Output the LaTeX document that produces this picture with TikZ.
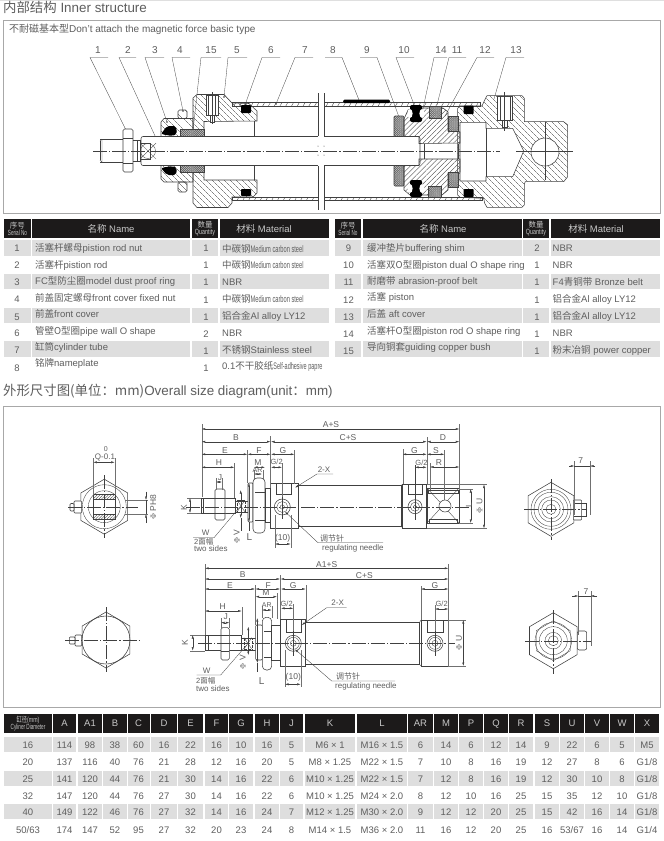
\documentclass[tikz,border=0pt]{standalone}
\usepackage{fontspec}
\setmainfont{Liberation Sans}
\newfontfamily\cjk{Noto Sans CJK SC}
\usetikzlibrary{arrows.meta,patterns.meta}
\definecolor{ln}{HTML}{404040}
\definecolor{tx}{HTML}{5E5E5E}
\definecolor{hdr}{HTML}{1C1A1A}
\definecolor{stripe}{HTML}{DEDEDE}
\definecolor{frm}{HTML}{A8A8A8}
\newcommand\zh[1]{{\cjk #1}}
\newcommand\fs[1]{\fontsize{#1}{#1}\selectfont}
\newcommand\nar[2]{\scalebox{#1}[1]{#2}}
\tikzset{
 txt/.style={inner sep=0pt,text=tx,font=\fs{9.5}},
 ltxt/.style={txt,anchor=west},
 htxt/.style={inner sep=0pt,text=white!78!black,font=\fs{9.5}},
 dtxt/.style={inner sep=0pt,text=tx,font=\fs{8.5}},
 ntxt/.style={inner sep=0pt,text=tx,font=\fs{10}},
 ttl/.style={inner sep=0pt,anchor=west,text=tx,font=\fs{13.4}},
 hcell/.style={fill=hdr},
 rowbar/.style={fill=stripe},
 part/.style={draw=ln,line width=.55pt},
 thin/.style={draw=ln,line width=.35pt},
 leader/.style={draw=ln,line width=.3pt},
 dimn/.style={draw=ln,line width=.35pt,{Latex[length=3.5pt,width=2pt]}-{Latex[length=3.5pt,width=2pt]}},
 ptr/.style={draw=ln,line width=.35pt,-{Latex[length=3.5pt,width=2pt]}},
 ext/.style={draw=ln!75,line width=.3pt},
 cline/.style={draw=ln,line width=.3pt,dash pattern=on 14pt off 2pt on 1.2pt off 2pt},
 hatchA/.style={part,pattern={Lines[angle=-45,distance=4pt,line width=.35pt]},pattern color=ln},
 hatchB/.style={part,pattern={Lines[angle=45,distance=3.6pt,line width=.35pt]},pattern color=ln},
 hatchT/.style={part,pattern={Lines[angle=60,distance=5pt,line width=.35pt]},pattern color=ln},
 dense/.style={part,preaction={fill=gray!45},pattern={Hatch[angle=45,distance=1.5pt,line width=.35pt]},pattern color=ln!80},
 seal/.style={fill=black,rounded corners=.8pt},
 wfill/.style={part,fill=white},
}
\newcommand\dogbone[2]{%
 \fill[black,rounded corners=2pt] (#1-6,#2-8.5) rectangle (#1+6,#2+8.5);
 \fill[white] (#1-6,#2) ellipse (2.6 and 4.5);
 \fill[white] (#1+6,#2) ellipse (2.6 and 4.5);}
\newcommand\hexa[3]{% cx cy R (pointy top, half width .85R)
 (#1,#2-#3) -- (#1+.85*#3,#2-.5*#3) -- (#1+.85*#3,#2+.5*#3) -- (#1,#2+#3) -- (#1-.85*#3,#2+.5*#3) -- (#1-.85*#3,#2-.5*#3) -- cycle}
\newcommand\prow[8]{%
 \node[txt] (s#1) at (\xS,#2) {#1};
 \node[ltxt] (n#1) at (\xN,#3) {#6};
 \node[txt] (q#1) at (\xQ,#4) {#7};
 \node[ltxt] (m#1) at (\xM,#5) {#8};}
\begin{document}
\begin{tikzpicture}[x=1pt,y=-1pt]
\useasboundingbox (0,0) rectangle (664,841);
\fill[white] (0,0) rectangle (664,841);
\fill[gray!25] (0,0) rectangle (664,1);
% ---------- titles and frames
\node[ttl] (title1) at (3,7.5) {\zh{内部结构} Inner structure};
\draw[frm,line width=.7pt] (3.5,20) rectangle (660,213);
\node[inner sep=0pt,anchor=west,text=tx,font=\fs{10}] (sub1) at (9,29) {\zh{不耐磁基本型}Don't attach the magnetic force basic type};
\node[ttl] (title2) at (3,391.5) {\zh{外形尺寸图(单位：mm)}Overall size diagram(unit\zh{：}mm)};
\draw[frm,line width=.7pt] (3.5,406) rectangle (660,707.5);
% ---------- call-outs
\foreach \t/\x/\a/\b/\px/\py in {1/98/90/108/127/132,2/128/119/136/156/138,3/155/145/164/167/122,4/180/172/190/183/111,15/211/201/221/193/131,5/237/228/247/224/97,6/271/262/280/245/105,7/305/295/313/276/104}{
 \node[ntxt] (c\t) at (\x,50) {\t};
 \draw[leader] (\b,57.5) -- (\a,57.5) -- (\px,\py);
 \fill[ln] (\px,\py) circle (.8);
}
\foreach \t/\x in {8/333,9/367,12/485}{
 \node[ntxt] (c\t) at (\x,50) {\t};
}
\draw[leader] (325,57.5) -- (342,57.5) -- (359,100);
\draw[leader] (360,57.5) -- (377,57.5) -- (399,117);
\node[ntxt] (c10) at (404,50) {10};
\draw[leader] (414,57.5) -- (396,57.5) -- (415,107);
\node[ntxt] (c14) at (441,50) {14};
\draw[leader] (447,57.5) -- (434,57.5) -- (421,118);
\node[ntxt] (c11) at (457,50) {11};
\draw[leader] (466,57.5) -- (449,57.5) -- (437,105);
\draw[leader] (494,57.5) -- (477,57.5) -- (445,116);
\node[ntxt] (c13) at (516,50) {13};
\draw[leader] (524,57.5) -- (506,57.5) -- (494,99);
% ---------- section drawing
% tube
\draw[hatchT] (232,102.5) rectangle (480,106);
\draw[hatchT] (232,197) rectangle (482,200.5);
% rear cover
\draw[hatchA] (457.7,108.3) -- (460,106) -- (482,106) -- (484.7,100) -- (487,95.7) -- (522,95.7) -- (524.3,98.3) -- (524.3,121.7) -- (563.7,121.7) -- (567.7,125) -- (567.7,176.7) -- (563.7,181.7) -- (525.3,181.7) -- (524.3,184) -- (524.3,205) -- (522,207.3) -- (487,207.3) -- (484.7,203.3) -- (483.7,198.3) -- (460,197.3) -- (457.7,195) -- cycle;
\draw[wfill] (460,122.3) -- (486,122.3) -- (486,128.3) -- (512.7,128.3) -- (523.7,151) -- (512.7,176.7) -- (486,176.7) -- (486,181) -- (460,181) -- cycle;
\draw[thin] (486,128.3) -- (486,176.7);
\draw[wfill] (545,152) circle (14);
\draw[thin] (545,122) -- (545,180);
\draw[thin] (516,151) -- (573,151);
\fill[seal] (463.7,105.7) rectangle (473.7,114);
\fill[seal] (463.7,189) rectangle (473.7,197);
\draw[wfill] (497.7,96) rectangle (512,120);
\draw[thin] (500,96) -- (500,120) (510,96) -- (510,120);
\draw[thin,fill=white] (502,120) rectangle (507,127);
\draw[thin] (504.5,92) -- (504.5,131);
% wiper gland
\draw[hatchA] (161,122) -- (164,118.5) -- (193,118.5) -- (193,136.5) -- (161,136.5) -- cycle;
\draw[hatchA] (161,165.5) -- (161,179) -- (164,182) -- (193,182) -- (193,165.5) -- cycle;
% front cover
\draw[hatchA] (193,98) -- (197,94.5) -- (224,94.5) -- (232,103) -- (249,103.5) -- (257,111) -- (257,121) -- (204,121.5) -- (204,136.5) -- (193,136.5) -- cycle;
\draw[hatchA] (193,165.5) -- (204,165.5) -- (204,180) -- (257,180) -- (257,193) -- (253,197) -- (232,197) -- (232,203) -- (228,207.5) -- (197,207.5) -- (193,203) -- cycle;
\draw[thin] (254,121) -- (254,136.5) (254,165.5) -- (254,180);
\fill[seal] (241,105) rectangle (251,113);
\fill[seal] (241,189) rectangle (251,196);
\draw[wfill] (206,95) rectangle (218,115);
\draw[thin] (208.5,95) -- (208.5,115) (215.5,95) -- (215.5,115);
\draw[thin,fill=white] (210,115) rectangle (214,122);
\draw[thin] (212,92) -- (212,124);
% nuts 4
\draw[hatchA,rounded corners=1.5pt] (178,110) rectangle (187,118.5);
\draw[hatchA,rounded corners=1.5pt] (178,182) rectangle (187,192);
% wiper ring and bush 15
\fill[black,rounded corners=2pt] (161,134) -- (167,126) -- (176,126) -- (177,134) -- (172,136) -- cycle;
\fill[black,rounded corners=2pt] (161,168) -- (167,175) -- (176,175) -- (177,168) -- (172,166) -- cycle;
\draw[dense] (180,129.5) rectangle (204,136.5);
\draw[dense] (180,165.5) rectangle (204,172.5);
% rod and end
\draw[part] (100,139) -- (123,139) (100,162) -- (123,162) (100,141) -- (100,160);
\draw[thin] (100,141) -- (102,139) (100,160) -- (102,162) (102,139) -- (102,162);
\draw[wfill,rounded corners=1.5pt] (123,129) rectangle (133,172);
\draw[thin] (123,138) -- (133,138) (123,163) -- (133,163);
\draw[part] (133,140) -- (140,140) -- (140,161) -- (133,161);
\draw[thin] (137,140) -- (137,161);
\draw[wfill,rounded corners=2pt] (141,136.5) rectangle (420,165.5);
\draw[thin] (140,143) rectangle (150,159);
\draw[thin] (148,151) circle (7.5);
\draw[thin] (140,143) -- (156,159) (140,159) -- (156,143);
% shim 9
\draw[dense,rounded corners=1pt] (394,116) rectangle (404,136.5);
\draw[dense,rounded corners=1pt] (394,165.5) rectangle (404,186);
% piston
\draw[hatchB] (404,136.5) -- (404,119) -- (408,110) -- (413,108) -- (443,108) -- (448,112) -- (448,131) -- (460,132) -- (460,143) -- (419,143.5) -- (419,136.5) -- cycle;
\draw[hatchB] (404,165.5) -- (419,165.5) -- (419,159) -- (460,159) -- (460,172) -- (448,173) -- (448,190) -- (442,195) -- (410,195) -- (404,190) -- cycle;
\draw[thin] (424,144) -- (424,159) (458,144) -- (458,159);
\dogbone{416}{113.5}
\dogbone{416}{188.5}
\draw[dense] (429,106) rectangle (441,118);
\draw[dense] (428,186) rectangle (441,197);
\draw[dense] (448,116) rectangle (458,131);
\draw[dense] (448,172) rectangle (458,187);
% nameplate
\fill[black,rounded corners=1.5pt] (343,99.5) rectangle (390,103);
% break
\fill[white] (318,93) rectangle (324,210);
\draw[thin] (318,93) -- (318,136) (324,93) -- (324,136) (318,166) -- (318,210) (324,166) -- (324,210);
\draw[thin] (318,102.5) -- (318,106);
\fill[ln] (318,146) circle (.5) (324,146) circle (.5) (318,155) circle (.5) (324,155) circle (.5);
% centre line
\draw[cline] (93,151) -- (500,151);
% ---------- tables 1 and 2
\foreach \a/\b in {4/31,32/190,192/218,220/329,335/361,363/522,523/549,551/660}{
 \fill[hcell] (\a,219) rectangle (\b,238);
 \foreach \p/\q in {240/256,274/289,308/323,341/357}{\fill[rowbar] (\a,\p) rectangle (\b,\q);}
}
\node[htxt,align=center,font=\fs{7.5}] (h1a) at (17.5,228.5) {\zh{序号}\\[-.5pt]\nar{.62}{Serial No}};
\node[htxt] (h1b) at (111,228.5) {\zh{名称} Name};
\node[htxt,align=center,font=\fs{7.5}] (h1c) at (205,228.5) {\zh{数量}\\[-.5pt]\nar{.72}{Quantity}};
\node[htxt] (h1d) at (264,228.5) {\zh{材料} Material};
\node[htxt,align=center,font=\fs{7.5}] (h2a) at (348,228.5) {\zh{序号}\\[-.5pt]\nar{.62}{Serial No}};
\node[htxt] (h2b) at (443,228.5) {\zh{名称} Name};
\node[htxt,align=center,font=\fs{7.5}] (h2c) at (536,228.5) {\zh{数量}\\[-.5pt]\nar{.72}{Quantity}};
\node[htxt] (h2d) at (596,228.5) {\zh{材料} Material};
\def\xS{17}\def\xN{35}\def\xQ{206}\def\xM{222}
\prow{1}{248}{248}{248}{248.5}{\zh{活塞杆螺母}pistion rod nut}{1}{\zh{中碳钢}\nar{.6}{Medium carbon steel}}
\prow{2}{265}{265}{265.5}{265}{\zh{活塞杆}pistion rod}{1}{\zh{中碳钢}\nar{.6}{Medium carbon steel}}
\prow{3}{282}{281.5}{282.5}{282}{FC\zh{型防尘圈}model dust proof ring}{1}{NBR}
\prow{4}{299.5}{297.5}{300}{299}{\zh{前盖固定螺母}front cover fixed nut}{1}{\zh{中碳钢}\nar{.6}{Medium carbon steel}}
\prow{5}{317}{314}{317}{316}{\zh{前盖}front cover}{1}{\zh{铝合金}Al alloy LY12}
\prow{6}{333}{331}{334}{333}{\zh{管壁O型圈}pipe wall O shape}{2}{NBR}
\prow{7}{350}{347}{351}{350}{\zh{缸筒}cylinder tube}{1}{\zh{不锈钢}Stainless steel}
\prow{8}{368}{363.5}{368}{366.5}{\zh{铭牌}nameplate}{1}{0.1\zh{不干胶纸}\nar{.58}{Self-adhesive papre}}
\def\xS{348.5}\def\xN{367}\def\xQ{537}\def\xM{552.5}
\prow{9}{248}{248}{248}{248.5}{\zh{缓冲垫片}buffering shim}{2}{NBR}
\prow{10}{265}{265}{265.5}{265.5}{\zh{活塞双O型圈}piston dual O shape ring}{1}{NBR}
\prow{11}{282}{281.5}{282.5}{282}{\zh{耐磨带} abrasion-proof belt}{1}{F4\zh{青铜带} Bronze belt}
\prow{12}{300}{297.5}{300}{299.5}{\zh{活塞} piston}{1}{\zh{铝合金}Al alloy LY12}
\prow{13}{317}{314}{317}{316}{\zh{后盖} aft cover}{1}{\zh{铝合金}Al alloy LY12}
\prow{14}{334}{331}{334}{333}{\zh{活塞杆O型圈}piston rod O shape ring}{1}{NBR}
\prow{15}{351}{347}{351}{350}{\zh{导向铜套}guiding copper bush}{1}{\zh{粉末冶铜} power copper}
% ---------- upper outline view: left end
\draw[part] \hexa{104.3}{506.7}{27.5};
\draw[thin] (104.3,506.7) circle (22);
\draw[thin] (104.3,506.7) circle (16);
\draw[part] (93,494) rectangle (115.7,519);
\draw[part,pattern={Lines[angle=45,distance=2pt,line width=.35pt]},pattern color=ln] (93,494) rectangle (115.7,499);
\draw[part,pattern={Lines[angle=45,distance=2pt,line width=.35pt]},pattern color=ln] (93,514) rectangle (115.7,519);
\draw[part,fill=white,rounded corners=1pt] (74,501) rectangle (81.7,513);
\draw[part,fill=white,rounded corners=1pt] (70,503.5) rectangle (74,511);
\draw[cline] (68,506.7) -- (138,506.7) (104.3,475) -- (104.3,538);
\draw[ext] (93.3,458) -- (93.3,495) (114.7,458) -- (114.7,495);
\draw[dimn] (93.3,462.3) -- (114.7,462.3);
\node[dtxt,font=\fs{7}] (q0) at (105.7,449) {0};
\node[dtxt,font=\fs{8}] (q01) at (105,457) {Q-0.1};
\draw[ext] (125,500) -- (148,500) (125,514) -- (148,514);
\draw[ptr] (146,491.5) -- (146,500);
\draw[ptr] (146,523) -- (146,514);
\draw[thin] (146,500) -- (146,514);
\node[dtxt,rotate=90] (phip) at (153.3,507) {$\Phi$ PH8};
% ---------- upper outline view: side
\draw[part] (201,498) rectangle (215,513);
\draw[thin] (203.5,498) -- (203.5,513);
\draw[part] (225,498) -- (235,498) -- (235,513) -- (225,513);
\draw[wfill,rounded corners=1.5pt] (215,489) rectangle (225,520);
\draw[thin] (215,498) -- (225,498) (215,513) -- (225,513);
\draw[thin] (235,501) -- (248,501) (235,512) -- (248,512);
\draw[thin,densely dotted] (237,500) rectangle (245,512);
\draw[thin] (237,500) -- (245,512) (237,512) -- (245,500);
\draw[wfill,rounded corners=1pt] (248,483) rectangle (253,522);
\draw[wfill,rounded corners=4pt] (253,478) -- (265,478) -- (265,533) -- (253,533) -- cycle;
\draw[thin] (255,492) -- (265,492) (255,520) -- (265,520);
\draw[wfill] (265,488) rectangle (271,522);
\draw[wfill] (270.7,483) rectangle (298.3,528);
\draw[thin] (275.7,483) rectangle (290.7,494);
\draw[wfill] (298.3,485) rectangle (401.7,526.7);
\draw[wfill] (402.7,484) rectangle (426.7,528.3);
\draw[thin] (408.3,484) rectangle (422.3,493.7);
\draw[thin] (401.7,485) -- (402.7,484) (401.7,526.7) -- (402.7,528.3);
\draw[part] (282.3,507) circle (8);
\draw[thin] (282.3,507) circle (5.5) (282.3,507) circle (2.2);
\draw[part] (415,506.7) circle (7);
\draw[thin] (415,506.7) circle (4.5) (415,506.7) circle (1.8);
\draw[wfill] (427,488) rectangle (459,523);
\draw[thin] (428,490) rectangle (458,493.5) (429,519.5) rectangle (457,523);
\draw[thin] (427,488) -- (459,523) (427,523) -- (459,488);
\draw[wfill] (445,506) circle (6);
\draw[cline] (186,506.7) -- (473,506.7);
\draw[thin] (282.3,495) -- (282.3,519) (415,465) -- (415,520);
% extension lines
\draw[ext] (201.7,424) -- (201.7,497) (270.5,436) -- (270.5,488) (247.5,450) -- (247.5,483) (234.3,463) -- (234.3,498) (294.3,450) -- (294.3,484);
\draw[ext] (254,470) -- (254,480) (263,470) -- (263,480) (216,478) -- (216,490) (222,478) -- (222,490) (282,463) -- (282,497);
\draw[ext] (402.7,449) -- (402.7,484) (426.7,437) -- (426.7,484) (459.3,424) -- (459.3,490) (444.3,450) -- (444.3,500) (430,463) -- (430,490);
\draw[ext] (427,484.5) -- (487,484.5) (427,528.3) -- (487,528.3) (459,489) -- (473,489) (459,523) -- (473,523);
\draw[ext] (187,498) -- (201,498) (187,513) -- (201,513);
\draw[ext] (275,515) -- (275,548) (290.7,515) -- (290.7,548);
% dimensions
\draw[dimn] (201.7,429) -- (459.3,429);
\draw[dimn] (201.7,441.7) -- (270.5,441.7);
\draw[dimn] (271,441.7) -- (426.7,441.7);
\draw[dimn] (427,441.7) -- (459.3,441.7);
\draw[dimn] (201.7,454.3) -- (247.3,454.3);
\draw[dimn] (247.7,454.3) -- (270.5,454.3);
\draw[dimn] (271,454.3) -- (294.3,454.3);
\draw[dimn] (402.7,454.3) -- (426.7,454.3);
\draw[dimn] (427,454.3) -- (444.3,454.3);
\draw[dimn] (201.7,467.3) -- (234.3,467.3);
\draw[dimn] (254,467.3) -- (265,467.3);
\draw[dimn] (254,474) -- (262,474);
\draw[dimn] (271,467.3) -- (282,467.3);
\draw[dimn] (415,467.3) -- (426.7,467.3);
\draw[dimn] (430,467) -- (459.3,467);
\draw[dimn] (216,482) -- (222,482);
\draw[dimn] (275,544) -- (290.7,544);
\draw[dimn] (190,498) -- (190,513);
\draw[dimn] (240.7,490) -- (240.7,518);
\draw[thin] (240.7,518) -- (240.7,531);
\draw[dimn] (470.7,489) -- (470.7,523);
\draw[dimn] (484,484.5) -- (484,528.3);
\draw[dimn] (249,483) -- (249,522);
\draw[thin] (249,522) -- (249,531);
\node[dtxt,font=\fs{10}] (dll) at (249.5,537) {L};
\node[dtxt] (ds) at (331,425) {A+S};
\node[dtxt] (db) at (236,438) {B};
\node[dtxt] (dc) at (348,438) {C+S};
\node[dtxt] (dd) at (443,438) {D};
\node[dtxt] (de) at (225,450.5) {E};
\node[dtxt] (df) at (259,450.5) {F};
\node[dtxt] (dg) at (283,450.5) {G};
\node[dtxt] (dg2) at (414.5,450.5) {G};
\node[dtxt] (dss) at (436,450.5) {S};
\node[dtxt] (dh) at (219,463) {H};
\node[dtxt] (dm) at (258,463) {M};
\node[dtxt,font=\fs{7}] (dar) at (257.5,470) {AR};
\node[dtxt,font=\fs{7.5}] (dgh) at (276.7,462) {G/2};
\node[dtxt,font=\fs{7.5}] (dgh2) at (421.5,462.5) {G/2};
\node[dtxt] (dr) at (439,462.5) {R};
\node[dtxt] (dj) at (220,478) {J};
\node[dtxt,rotate=90] (dk) at (184,507.7) {K};
\node[dtxt,rotate=90] (dv) at (236.7,536.7) {$\Phi$ V};
\node[dtxt,rotate=90] (dl) at (469,505) {L};
\node[dtxt,rotate=90] (du) at (479.5,506) {$\Phi$ U};
\node[dtxt] (d10) at (282.7,538) {(10)};
\node[dtxt,font=\fs{8}] (x2) at (324,470) {2-X};
\draw[ptr] (333,474) -- (317,474) -- (295,487.7);
\node[dtxt,font=\fs{8}] (w1) at (205.7,533) {W};
\draw[leader] (193,537.7) -- (214,537.7) -- (240,506.7);
\node[dtxt,font=\fs{7.5},anchor=west] (w2) at (194,541.7) {2\zh{面幅}};
\node[dtxt,font=\fs{8},anchor=west] (w3) at (194,549) {two sides};
\node[dtxt,font=\fs{8},anchor=west] (r1) at (320,538) {\zh{调节针}};
\draw[ptr] (383,542.7) -- (318,542.7) -- (285,511.7);
\node[dtxt,font=\fs{8},anchor=west] (r2) at (322,548) {regulating needle};
% ---------- upper right end view
\draw[part] \hexa{551}{509.3}{27};
\foreach \r in {20,17,12.7,9.3,5}{\draw[thin] (551,509.3) circle (\r);}
\draw[part,fill=white,rounded corners=1pt] (573.3,500) rectangle (581.7,520);
\draw[thin] (574,503) -- (586,503) -- (586,516) -- (574,516);
\draw[cline] (524,509.3) -- (586,509.3) (551,479) -- (551,540);
\draw[ext] (574.3,461) -- (574.3,515) (590,461) -- (590,515);
\draw[ptr] (569,466) -- (574.3,466);
\draw[ptr] (595,466) -- (590,466);
\draw[thin] (574.3,466) -- (590,466);
\node[dtxt] (d7) at (580.7,461) {7};
% ---------- lower outline view: left end
\draw[part] \hexa{106}{640}{28};
\draw[part] (106,640) circle (24);
\draw[part,fill=white,rounded corners=1pt] (75,635) rectangle (81.7,646);
\draw[part,fill=white,rounded corners=1pt] (69.3,637) rectangle (75,644);
\draw[cline] (65,640) -- (141,640) (106,607) -- (106,672);
% ---------- lower outline view: side
\draw[part] (205,635) rectangle (221,650.7);
\draw[thin] (208,635) -- (208,650.7);
\draw[part] (229.3,635) -- (241.7,635) -- (241.7,650.7) -- (229.3,650.7);
\draw[wfill,rounded corners=1.5pt] (221,627.7) rectangle (229.3,660);
\draw[thin] (221,635) -- (229.3,635) (221,650.7) -- (229.3,650.7);
\draw[thin] (241.7,638) -- (255.7,638) (241.7,650) -- (255.7,650);
\draw[thin,densely dotted] (244,637.7) rectangle (251.7,649);
\draw[thin] (244,637.7) -- (251.7,649) (244,649) -- (251.7,637.7);
\draw[wfill,rounded corners=1pt] (255.7,625) rectangle (262.3,660);
\draw[wfill,rounded corners=4pt] (262.3,617.3) -- (271.7,617.3) -- (271.7,670) -- (262.3,670) -- cycle;
\draw[thin] (264,631) -- (271.7,631) (264,657) -- (271.7,657);
\draw[wfill] (271.7,625.7) rectangle (280.7,660.7);
\draw[wfill] (280.7,619.3) rectangle (305.7,666);
\draw[thin] (286,619.3) rectangle (300.7,631.7);
\draw[wfill] (305.7,622.7) rectangle (419.3,664);
\draw[wfill] (421,620) rectangle (448.3,666);
\draw[thin] (427.3,620) rectangle (443.3,631.7);
\draw[thin] (419.3,622.7) -- (421,620) (419.3,664) -- (421,666);
\draw[part] (293.3,643.3) circle (8);
\draw[thin] (293.3,643.3) circle (6) (293.3,643.3) circle (3);
\draw[part] (435,643.3) circle (8);
\draw[thin] (435,643.3) circle (6) (435,643.3) circle (3);
\draw[cline] (198,643.3) -- (455,643.3);
\draw[thin] (293.3,631) -- (293.3,656) (435,631) -- (435,656);
% extension lines
\draw[ext] (205,564) -- (205,635) (280.3,575) -- (280.3,619) (255.5,585) -- (255.5,625) (305.7,585) -- (305.7,622) (241.7,607) -- (241.7,635) (277,593) -- (277,619);
\draw[ext] (221,618) -- (221,628) (229.3,618) -- (229.3,628) (262,606) -- (262,618) (271.7,606) -- (271.7,618) (293.3,604) -- (293.3,631);
\draw[ext] (421,586) -- (421,620) (448.3,564) -- (448.3,666) (435,605) -- (435,631);
\draw[ext] (448,620) -- (466,620) (448,666) -- (466,666);
\draw[ext] (190,635) -- (205,635) (190,650.7) -- (205,650.7);
\draw[ext] (285,650) -- (285,687) (300.7,650) -- (300.7,687);
\draw[dimn] (205,568.3) -- (448.3,568.3);
\draw[dimn] (205,579) -- (280,579);
\draw[dimn] (280.6,579) -- (448.3,579);
\draw[dimn] (205,589) -- (255,589);
\draw[dimn] (255.5,589) -- (280,589);
\draw[dimn] (281,589) -- (305.7,589);
\draw[dimn] (421,589) -- (448.3,589);
\draw[dimn] (255.5,596.7) -- (277,596.7);
\draw[dimn] (205,611) -- (241.7,611);
\draw[dimn] (262,610) -- (271.7,610);
\draw[dimn] (281,608.3) -- (293.3,608.3);
\draw[dimn] (435,609) -- (448.3,609);
\draw[dimn] (221,622.7) -- (229.3,622.7);
\draw[dimn] (192.7,635) -- (192.7,650.7);
\draw[dimn] (248.3,626.7) -- (248.3,655);
\draw[dimn] (463.3,620) -- (463.3,666);
\draw[dimn] (285,684.3) -- (300.7,684.3);
\draw[dimn] (257.3,618) -- (257.3,663);
\draw[thin] (257.3,663) -- (257.3,672);
\node[dtxt] (la) at (326.7,564.3) {A1+S};
\node[dtxt] (lb) at (242.7,575) {B};
\node[dtxt] (lc) at (364.3,575.5) {C+S};
\node[dtxt] (le) at (230,585.5) {E};
\node[dtxt] (lf) at (268.3,585.5) {F};
\node[dtxt] (lg) at (293.3,585.5) {G};
\node[dtxt] (lg2) at (435,585.5) {G};
\node[dtxt] (lm) at (266,593) {M};
\node[dtxt] (lh) at (222.7,607) {H};
\node[dtxt,font=\fs{7}] (lar) at (266.7,605) {AR};
\node[dtxt,font=\fs{7.5}] (lgh) at (286.7,604) {G/2};
\node[dtxt,font=\fs{7.5}] (lgh2) at (441.7,604) {G/2};
\node[dtxt] (lj) at (225.7,617) {J};
\node[dtxt,rotate=90] (lk) at (185,642.3) {K};
\node[dtxt,rotate=90] (lv) at (242.7,662.3) {$\Phi$ V};
\node[dtxt,font=\fs{10}] (ll) at (261.7,681) {L};
\node[dtxt,rotate=90] (lu) at (459,643) {$\Phi$ U};
\node[dtxt] (l10) at (293.3,677.3) {(10)};
\node[dtxt,font=\fs{8}] (lx) at (337.7,603) {2-X};
\draw[ptr] (346.7,607.7) -- (326.7,607.7) -- (301.7,625);
\node[dtxt,font=\fs{8}] (lw) at (206.7,670.7) {W};
\draw[leader] (196.7,675) -- (220.7,675) -- (246.7,645);
\node[dtxt,font=\fs{7.5},anchor=west] (lw2) at (196,681) {2\zh{面幅}};
\node[dtxt,font=\fs{8},anchor=west] (lw3) at (196,688.3) {two sides};
\node[dtxt,font=\fs{8},anchor=west] (lr1) at (336,676) {\zh{调节针}};
\draw[ptr] (395,681) -- (331.7,681) -- (295,649.3);
\node[dtxt,font=\fs{8},anchor=west] (lr2) at (335,686.5) {regulating needle};
% ---------- lower right end view
\draw[part] \hexa{553.3}{640.7}{28};
\foreach \r in {18.3,14,8.3,5}{\draw[thin] (553.3,640.7) circle (\r);}
\draw[thin] \hexa{553.3}{640.7}{20};
\draw[part,fill=white,rounded corners=2pt] (577.3,631) rectangle (586.7,650);
\draw[cline] (525,640.7) -- (592,640.7) (553.3,610) -- (553.3,674);
\draw[ext] (578.3,591) -- (578.3,635) (590.7,591) -- (590.7,646);
\draw[ptr] (572,596) -- (578.3,596);
\draw[ptr] (597,596) -- (590.7,596);
\draw[thin] (578.3,596) -- (590.7,596);
\node[dtxt] (l7) at (586,591.7) {7};
% ---------- size table
\def\cols{{28,64.5,90,115,138.5,164,190.5,216.5,241,267,291.5,330,382,420.5,446,471,496,521,547,572,597,622,647}}
\foreach \a/\b in {4/52,53/76,78/102,103/127,127.5/150,151/177,178/203,205/228,229/253,255/279,280/303,305/355,357/407,408/433,434/458,459/483,484/508,509/533,535/559,560/584,585/609,610/634,635/659}{
 \fill[hcell] (\a,714.3) rectangle (\b,733.3);
 \foreach \p/\q in {737/752,771/786,804/819}{\fill[rowbar] (\a,\p) rectangle (\b,\q);}
}
\node[htxt,align=center,font=\fs{7.5}] (h0) at (28,723.7) {\nar{.7}{\zh{缸径}(mm)}\\[-.5pt]\nar{.62}{Cyliner Diameter}};
\foreach \t [count=\i from 1] in {A,A1,B,C,D,E,F,G,H,J,K,L,AR,M,P,Q,R,S,U,V,W,X}{
 \pgfmathsetmacro\cx{\cols[\i]}
 \node[htxt] (hh\i) at (\cx,723.7) {\t};
}
\newcommand\szrow[3]{\foreach \t [count=\i from 0] in {#3}{
 \pgfmathsetmacro\cx{\cols[\i]}
 \node[txt] (#1c\i) at (\cx,#2) {\t};
}}
\szrow{ra}{745}{16,114,98,38,60,16,22,16,10,16,5,M6 × 1,M16 × 1.5,6,14,6,12,14,9,22,6,5,M5}
\szrow{rb}{762}{20,137,116,40,76,21,28,12,16,20,5,M8 × 1.25,M22 × 1.5,7,10,8,16,19,12,27,8,6,G1/8}
\szrow{rc}{779}{25,141,120,44,76,21,30,14,16,22,6,M10 × 1.25,M22 × 1.5,7,12,8,16,19,12,30,10,8,G1/8}
\szrow{rd}{796}{32,147,120,44,76,27,30,14,16,22,6,M10 × 1.25,M24 × 2.0,8,12,10,16,25,15,35,12,10,G1/8}
\szrow{re}{812}{40,149,122,46,76,27,32,14,16,24,7,M12 × 1.25,M30 × 2.0,9,12,12,20,25,15,42,16,14,G1/8}
\szrow{rf}{830}{50/63,174,147,52,95,27,32,20,23,24,8,M14 × 1.5,M36 × 2.0,11,16,12,20,25,16,53/67,16,14,G1/4}
\end{tikzpicture}
\end{document}
